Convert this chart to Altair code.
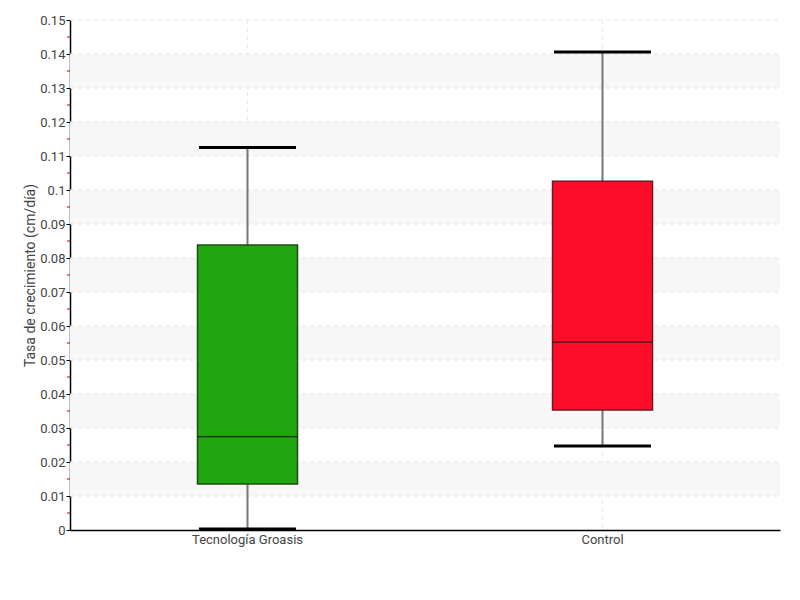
import altair as alt
import pandas as pd

categories = ["Tecnología Groasis", "Control"]
mins = [0.0003, 0.0247]
q1s = [0.0135, 0.0353]
medians = [0.0274, 0.0553]
q3s = [0.0838, 0.1026]
maxs = [0.1125, 0.1406]
colors = ["#22a60f", "#ff0c2a"]
strokes = ["#1b4d12", "#6b1a22"]

band_starts = [0.01, 0.03, 0.05, 0.07, 0.09, 0.11, 0.13]
minor_ticks = [0.005, 0.015, 0.025, 0.035, 0.045, 0.055, 0.065, 0.075,
               0.085, 0.095, 0.105, 0.115, 0.125, 0.135, 0.145]
major_ticks = [round(i * 0.01, 2) for i in range(16)]

df = pd.DataFrame({
    "cat": categories, "min": mins, "q1": q1s, "median": medians,
    "q3": q3s, "max": maxs, "color": colors, "stroke": strokes,
})
bands = pd.DataFrame({"y": band_starts, "y2": [b + 0.01 for b in band_starts]})
minors = pd.DataFrame({"y": minor_ticks})
grid = pd.DataFrame({"y": major_ticks[1:]})

FONT = "Roboto, sans-serif"
yscale = alt.Scale(domain=[0, 0.15], nice=False, zero=True)
yaxis = alt.Axis(values=major_ticks, format="~g", grid=False, tickCount=16,
                 labelOverlap=False, labelBound=False, labelFlush=False,
                 domainColor="#000", tickColor="#000",
                 tickSize=4, labelColor="#444", labelFont=FONT,
                 labelFontSize=13, titleFont=FONT, titleFontSize=14,
                 titleFontWeight="normal", titleColor="#444",
                 titlePadding=2, labelPadding=1)
xaxis = alt.Axis(labelAngle=0, ticks=False, grid=True, gridDash=[4, 4],
                 gridColor="#e6e6e6", domainColor="#000", labelColor="#444",
                 labelFont=FONT, labelFontSize=13, labelPadding=3)
xscale = alt.Scale(paddingInner=0, paddingOuter=0)
TITLE = "Tasa de crecimiento (cm/día)"


def X():
    return alt.X("cat:N", sort=categories, scale=xscale, title=None, axis=xaxis)


def Y(field):
    return alt.Y(field, scale=yscale, title=TITLE, axis=yaxis)


band_layer = alt.Chart(bands).mark_rect(color="#f7f7f7").encode(
    x=alt.value(0), x2=alt.value("width"), y=Y("y:Q"), y2="y2:Q")

grid_layer = alt.Chart(grid).mark_rule(color="#e3e3e3", strokeDash=[4, 4], strokeWidth=1).encode(
    x=alt.value(0), x2=alt.value("width"), y=Y("y:Q"))

base = alt.Chart(df)

whisker = base.mark_rule(color="#777", strokeWidth=2).encode(
    x=X(), y=Y("min:Q"), y2="max:Q")

box = base.mark_bar(size=100, strokeWidth=1.5).encode(
    x=X(), y=Y("q1:Q"), y2="q3:Q",
    fill=alt.Color("color:N", scale=None),
    stroke=alt.Color("stroke:N", scale=None))

median = base.mark_tick(size=100, thickness=1, color="#111", opacity=1).encode(
    x=X(), y=Y("median:Q"))

cap_lo = base.mark_tick(size=97, thickness=3, color="#000", opacity=1).encode(
    x=X(), y=Y("min:Q"))
cap_hi = base.mark_tick(size=97, thickness=3, color="#000", opacity=1).encode(
    x=X(), y=Y("max:Q"))

minor_layer = alt.Chart(minors).mark_rule(color="#d00000", strokeWidth=1).encode(
    x=alt.value(-3), x2=alt.value(0), y=Y("y:Q"))

chart = alt.layer(band_layer, grid_layer, whisker, box, median, cap_lo, cap_hi, minor_layer).properties(
    width=710, height=510,
    autosize=alt.AutoSizeParams(type="none"),
    padding={"left": 62, "top": 12, "right": 12, "bottom": 50},
).configure_view(stroke=None).configure_axis(domainWidth=1.5)

chart.save("out.html", embed_options={"renderer": "svg", "actions": False})
